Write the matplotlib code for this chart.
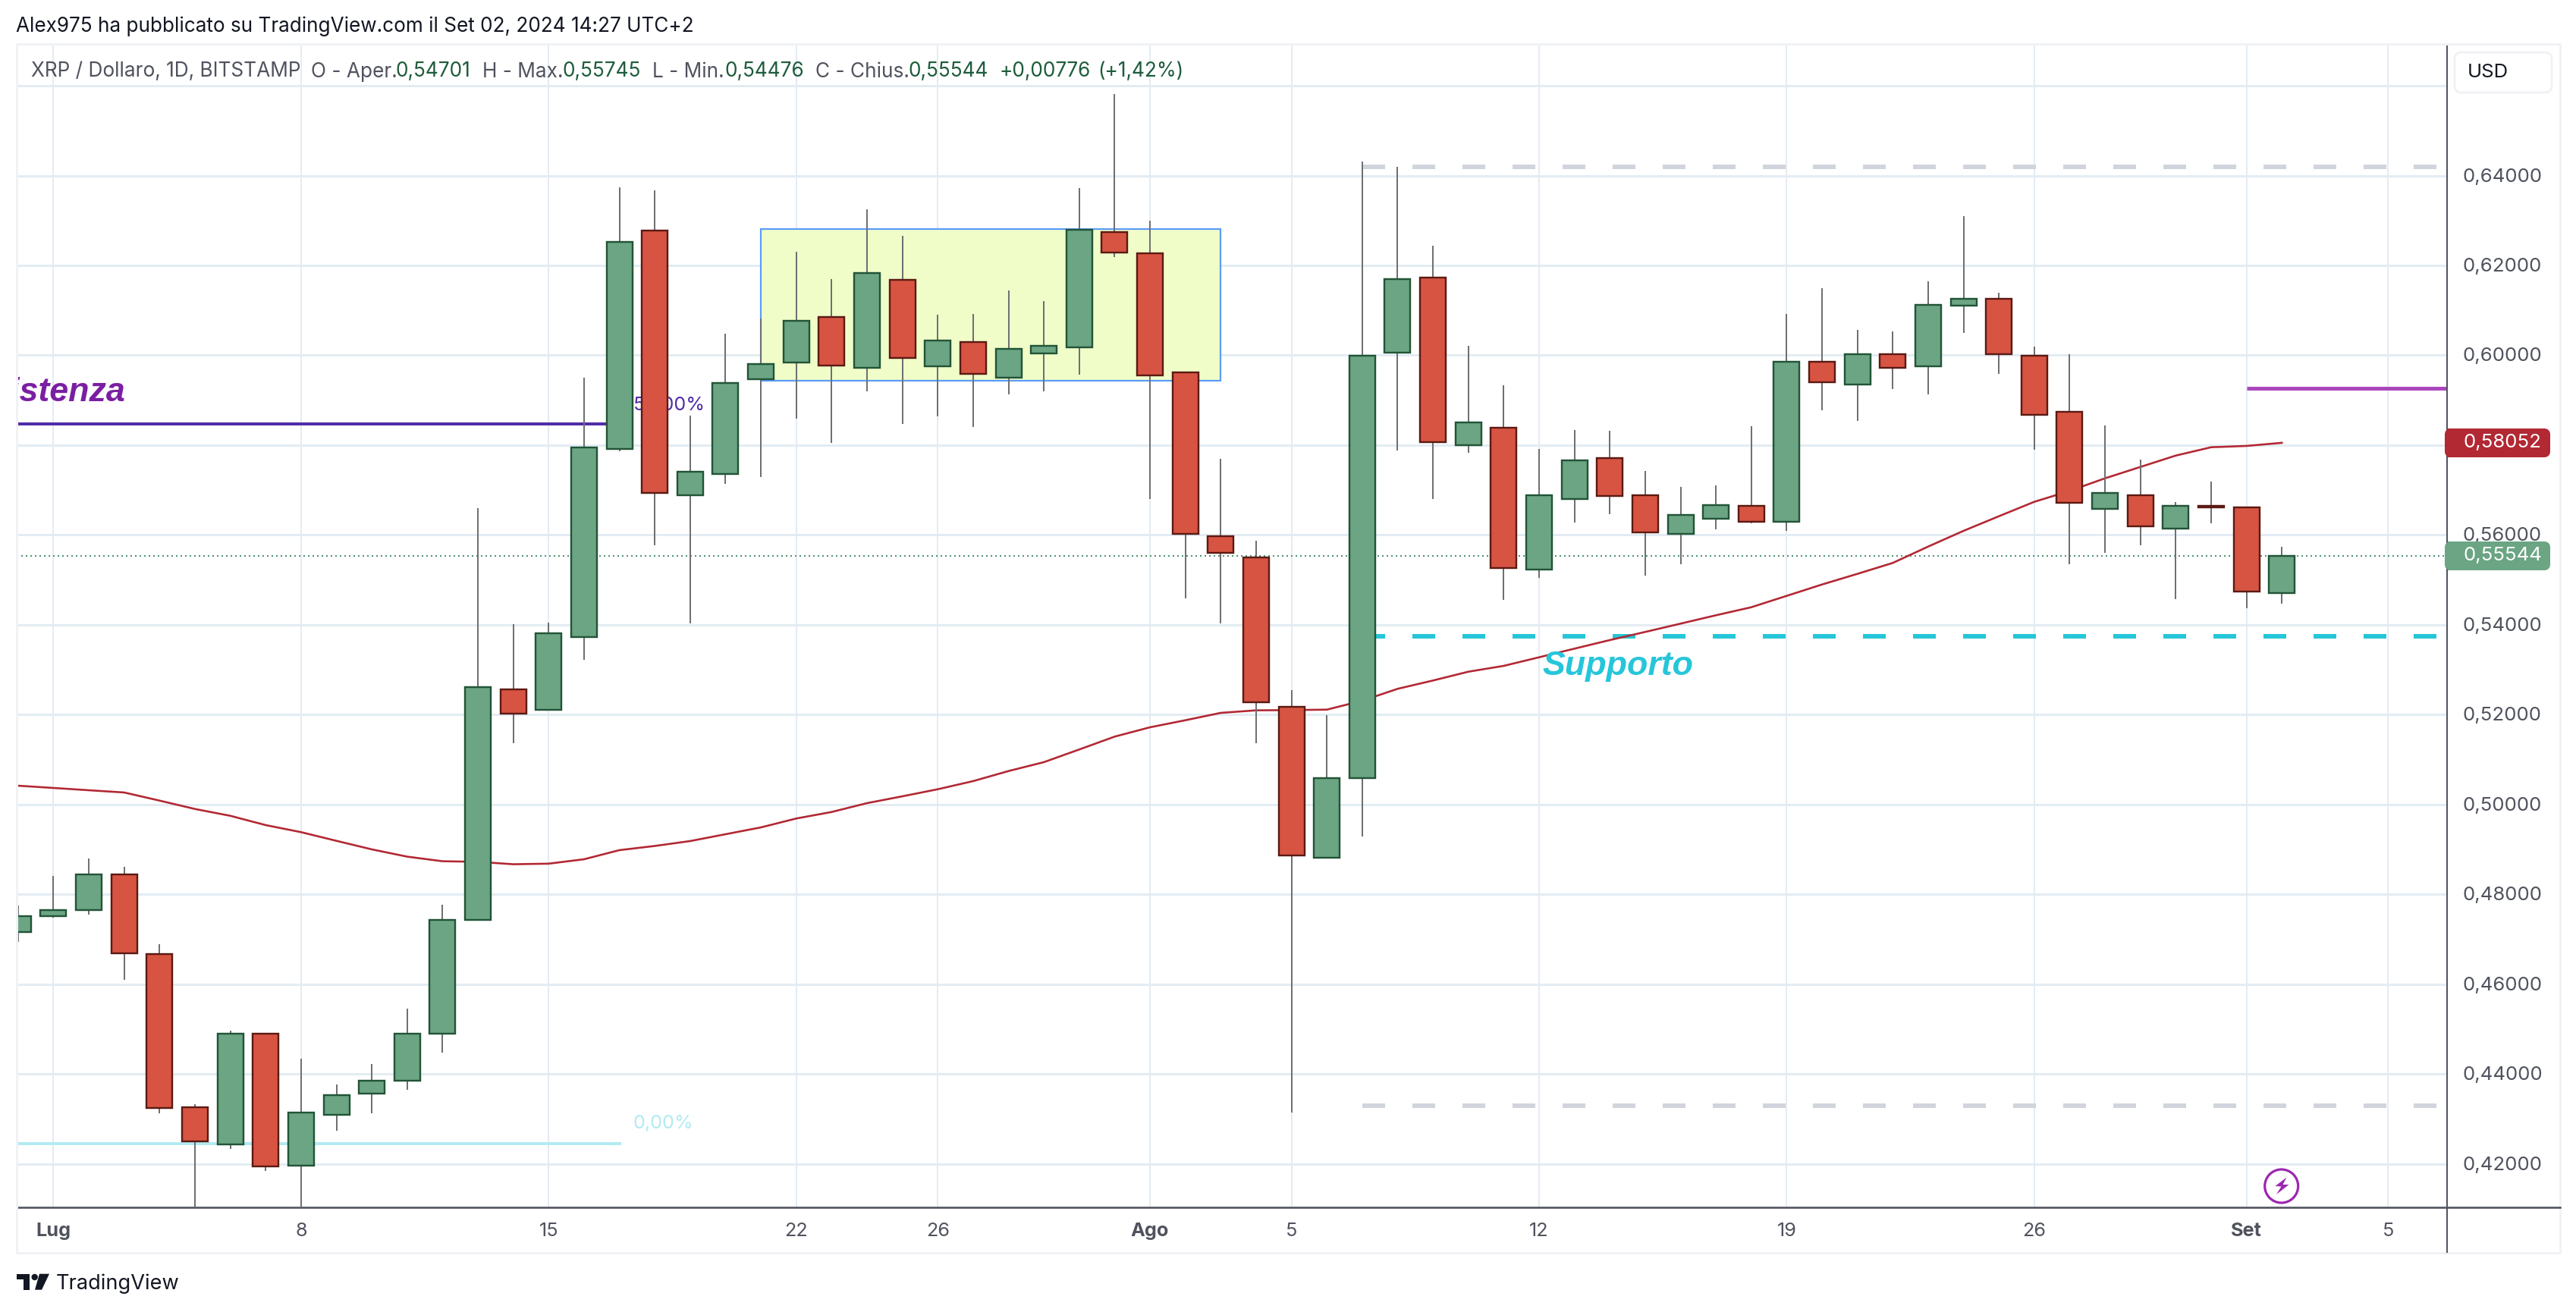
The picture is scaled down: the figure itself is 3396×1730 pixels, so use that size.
import matplotlib
matplotlib.use("Agg")
import matplotlib.pyplot as plt
from matplotlib.patches import Rectangle, FancyBboxPatch, Polygon, Circle
from matplotlib.transforms import ScaledTranslation

# ---------- data (days counted from 1 July 2024) ----------
days = list(range(-1, 64))
opens = [.47171,.47524,.47647,.48455,.46681,.43272,.42438,.44896,.41966,.43096,.43564,.43849,.44909,.47442,.52560,.52114,
         .53725,.57915,.62783,.56881,.57358,.59463,.59839,.60845,.59714,.61671,.59755,.60288,.59495,.60037,.60177,.62751,
         .62278,.59612,.55980,.55497,.52182,.48818,.50595,.60064,.61737,.58005,.58383,.55227,.56796,.57708,.56881,.56020,
         .56357,.56644,.56290,.59850,.59353,.60018,.59760,.61110,.61264,.59998,.58737,.56587,.56881,.56148,.56644,.56611,.54701]
highs = [.47755,.48421,.48801,.48617,.46894,.43333,.44970,.44896,.44345,.43772,.44231,.45459,.47772,.56599,.54017,.54050,
         .59502,.63738,.63671,.58658,.60481,.60818,.62304,.61696,.63249,.62658,.60903,.60920,.61443,.61207,.63721,.65814,
         .62996,.59620,.57696,.55873,.52548,.51991,.64312,.64194,.62439,.60211,.59333,.57915,.58337,.58320,.57426,.57071,
         .57105,.58422,.60920,.61493,.60565,.60531,.61645,.63097,.61392,.60194,.60025,.58439,.57679,.56734,.57190,.56633,.55745]
lows = [.46945,.47490,.47559,.46101,.43137,.40500,.42342,.41839,.40500,.42742,.43123,.43647,.44480,.47442,.51372,.52114,
        .53228,.57865,.55772,.54039,.57139,.57291,.58590,.58054,.59198,.58472,.58641,.58405,.59131,.59198,.59569,.62185,
        .56801,.54590,.54039,.51372,.43147,.48818,.49291,.57882,.56806,.57836,.54562,.55051,.56278,.56464,.55097,.55350,
        .56126,.56261,.56093,.58776,.58545,.59254,.59136,.60503,.59591,.57904,.55350,.55603,.55772,.54573,.56261,.54376,.54476]
closes = [.47524,.47647,.48455,.46691,.43248,.42499,.44896,.41949,.43147,.43543,.43863,.44896,.47442,.52611,.52020,.53809,
          .57944,.62530,.56942,.57404,.59379,.59799,.60761,.59767,.61826,.59934,.60322,.59591,.60135,.60206,.62793,.62287,
          .59553,.56025,.55598,.52273,.48862,.50590,.59986,.61691,.58060,.58498,.55260,.56881,.57657,.56864,.56054,.56442,
          .56661,.56300,.59850,.59397,.60018,.59728,.61115,.61264,.60018,.58680,.56722,.56931,.56199,.56644,.56616,.54747,.55544]
ma_values = [.50421,.50371,.50320,.50270,.50089,.49903,.49751,.49544,.49387,.49194,.49004,.48842,.48740,.48727,.48673,.48686,
             .48784,.48987,.49080,.49189,.49341,.49493,.49691,.49836,.50033,.50185,.50342,.50523,.50747,.50945,.51227,.51513,
             .51721,.51878,.52042,.52098,.52104,.52114,.52312,.52577,.52762,.52958,.53088,.53279,.53471,.53662,.53843,.54028,
             .54214,.54393,.54646,.54899,.55136,.55379,.55743,.56093,.56418,.56739,.56982,.57262,.57515,.57768,.57954,.57983,.58052]
price_ticks = [.42,.44,.46,.48,.50,.52,.54,.56,.58,.60,.62,.64,.66]
price_labels = ["0,42000","0,44000","0,46000","0,48000","0,50000","0,52000","0,54000","0,56000","","0,60000","0,62000","0,64000",""]
date_ticks = [0,7,14,21,25,31,35,42,49,56,62,66]
date_labels = ["Lug","8","15","22","26","Ago","5","12","19","26","Set","5"]
bold_dates = {"Lug","Ago","Set"}
last_price = .55544
ma_last = .58052
box_days = (20, 33); box_prices = (.59431, .62815)
fib_50_price = .58472; fib_0_price = .42457; fib_end = 16.05
support_price = .53746; upper_price = .64197; lower_price = .43299
level_days = (37, 67.4)
purple_price = .59269; purple_start = 62

# ---------- style ----------
W, H = 3396, 1731
DPI = 100
PX = 72 / DPI
AX_L, AX_R, AX_T, AX_B = 21.7, 3226, 58.5, 1593
XLIM = (-1.0465, 67.67)
YLIM = (.41037, .66937)
GRID = "#e3ecf3"
TXT = "#50535e"
DARK = "#131722"
GREEN, GREEN_E = "#6ba583", "#225437"
RED, RED_E = "#d75442", "#5b1a13"
VAL = "#1e5c3c"
plt.rcParams["font.family"] = ["Inter", "Liberation Sans", "DejaVu Sans"]
ITALIC = ["Liberation Sans"]

fig = plt.figure(figsize=(W / DPI, H / DPI), dpi=DPI, facecolor="white")
ax = fig.add_axes([AX_L / W, 1 - AX_B / H, (AX_R - AX_L) / W, (AX_B - AX_T) / H])
ax.set_xlim(*XLIM); ax.set_ylim(*YLIM)
ax.set_facecolor("white")
for s in ("left", "top"):
    ax.spines[s].set_visible(False)
for s in ("right", "bottom"):
    ax.spines[s].set_color(TXT); ax.spines[s].set_linewidth(2.6 * PX)
ax.spines["right"].set_linewidth(2 * PX)

ax.yaxis.tick_right()
ax.set_yticks(price_ticks); ax.set_yticklabels(price_labels)
ax.tick_params(axis="y", length=0, pad=15, labelsize=18.6, labelcolor=TXT)
for lab in ax.get_yticklabels():
    lab.set_transform(lab.get_transform() + ScaledTranslation(0, 2 / DPI, fig.dpi_scale_trans))
ax.set_xticks(date_ticks); ax.set_xticklabels(date_labels)
ax.tick_params(axis="x", length=0, pad=14, labelsize=18.2, labelcolor=TXT)
for lab in ax.get_xticklabels():
    if lab.get_text() in bold_dates:
        lab.set_fontweight("bold")
ax.grid(axis="y", color=GRID, lw=3 * PX, zorder=0)
ax.grid(axis="x", color=GRID, lw=2 * PX, zorder=0)
ax.set_axisbelow(True)

# drawings below the candles
ax.add_patch(Rectangle((box_days[0], box_prices[0]), box_days[1] - box_days[0], box_prices[1] - box_prices[0],
                       facecolor="#f0fdc9", edgecolor="#5b9cf6", lw=2.2 * PX, zorder=1))
ax.hlines(last_price, XLIM[0], XLIM[1], color="#4f9270", lw=2 * PX,
          linestyles=[(0, (1, 2))], zorder=1.5)
ax.plot(days, ma_values, color="#b22833", lw=2.6 * PX, zorder=2, solid_joinstyle="round")
ax.hlines(fib_50_price, XLIM[0], fib_end, color="#512da8", lw=4 * PX, zorder=1.6)
ax.hlines(fib_0_price, XLIM[0], fib_end, color="#b2ebf2", lw=4 * PX, zorder=1.6)
ax.text(16.39, .58911, "50,00%", color="#512da8", fontsize=18.2, va="center", zorder=1.7)
ax.text(16.39, .42911, "0,00%", color="#b2ebf2", fontsize=18.2, va="center", zorder=1.7)
dash = (0, (30 / 6, 36 / 6))
for price, col in ((upper_price, "#d1d4dc"), (lower_price, "#d1d4dc"), (support_price, "#26c6da")):
    ax.hlines(price, level_days[0], level_days[1], color=col, lw=6 * PX, linestyles=[dash], zorder=1.7)
ax.hlines(purple_price, purple_start, XLIM[1], color="#ab47bc", lw=5 * PX, zorder=1.7)
ax.text(2.03, .59198, "Resistenza", color="#7b1fa2", fontsize=32.2, style="italic", weight="bold", family=ITALIC,
        ha="right", va="center", zorder=1.7, clip_on=True)
ax.text(44.23, .53105, "Supporto", color="#26c6da", fontsize=32.2, style="italic", weight="bold", family=ITALIC,
        ha="center", va="center", zorder=3.5)

# candles
body_w = 34 / 46.63
for d, o, h, l, c in zip(days, opens, highs, lows, closes):
    up = c >= o
    ax.vlines(d, l, h, color="#6f7072", lw=2 * PX, zorder=3, snap=True)
    ax.bar(d, abs(c - o), bottom=min(o, c), width=body_w, color=GREEN if up else RED,
           edgecolor=GREEN_E if up else RED_E, linewidth=2.4 * PX, zorder=4)

# pixel-space overlay: frame, tags, header
ov = fig.add_axes([0, 0, 1, 1], facecolor="none")
ov.set_xlim(0, W); ov.set_ylim(H, 0); ov.axis("off")
BORDER = "#f0f2f5"
ov.plot([AX_L, 3375, 3375, AX_L, AX_L], [58.5, 58.5, 1653, 1653, 58.5], color=BORDER, lw=3 * PX, zorder=0)
ov.plot([AX_R, 3375], [AX_B, AX_B], color=TXT, lw=2.6 * PX)
ov.plot([AX_R, AX_R], [AX_B, 1652], color=TXT, lw=2 * PX)

def tag(y0, y1, color, label):
    ov.add_patch(FancyBboxPatch((AX_R + 1, y0 + 4), 3362 - AX_R - 5, y1 - y0 - 8, boxstyle="round,pad=0,rounding_size=4",
                                mutation_aspect=1, facecolor=color, edgecolor=color, lw=8 * PX, zorder=5))
    ov.add_patch(Rectangle((AX_R + 1, y0), 8, y1 - y0, facecolor=color, edgecolor="none", zorder=5))
    ov.text(3299.5, (y0 + y1) / 2 - 1, label, color="white", fontsize=18.6, ha="center", va="center", zorder=6)

tag(566, 604, "#b22833", "0,58052")
tag(715, 753, GREEN, "0,55544")

ov.add_patch(FancyBboxPatch((3236, 70), 128, 53, boxstyle="round,pad=0,rounding_size=9",
                            facecolor="white", edgecolor=BORDER, lw=3 * PX, zorder=5))
ov.text(3253, 96, "USD", color=DARK, fontsize=18.5, va="center", zorder=6)

ov.text(21, 35, "Alex975 ha pubblicato su TradingView.com il Set 02, 2024 14:27 UTC+2",
        color=DARK, fontsize=18.8, va="center")
legend = [(41, "XRP / Dollaro, 1D, BITSTAMP", TXT), (410, "O - Aper.", TXT), (522, "0,54701", VAL),
          (636, "H - Max.", TXT), (742, "0,55745", VAL), (860, "L - Min.", TXT), (956, "0,54476", VAL),
          (1075, "C - Chius.", TXT), (1198, "0,55544", VAL), (1318, "+0,00776", VAL), (1447, "(+1,42%)", VAL)]
for x, s, col in legend:
    ov.text(x, 94.5, s, color=col, fontsize=18.9, va="center", zorder=6)

# lightning badge
ov.add_patch(Circle((3007.7, 1565), 22, facecolor="none", edgecolor="#9c27b0", lw=3.2 * PX, zorder=6))
ov.add_patch(Polygon([(3014.5, 1553.5), (2999.5, 1565), (3007.5, 1565.5), (3001, 1576),
                      (3017.5, 1563), (3009.5, 1563)], closed=True, facecolor="#9c27b0", edgecolor="none", zorder=6))

# TradingView logo
ov.add_patch(Polygon([(22, 1680.7), (39.3, 1680.7), (39.3, 1701.7), (30.7, 1701.7), (30.7, 1688.3), (22, 1688.3)],
                     closed=True, facecolor=DARK, edgecolor="none"))
ov.add_patch(Circle((45.7, 1685), 4.2, facecolor=DARK, edgecolor="none"))
ov.add_patch(Polygon([(52, 1680.7), (65, 1680.7), (55, 1701.7), (46, 1701.7)], closed=True, facecolor=DARK, edgecolor="none"))
ov.text(74, 1693, "TradingView", color=DARK, fontsize=19.6, va="center", zorder=6)

fig.savefig("out.png", dpi=DPI, facecolor="white")
